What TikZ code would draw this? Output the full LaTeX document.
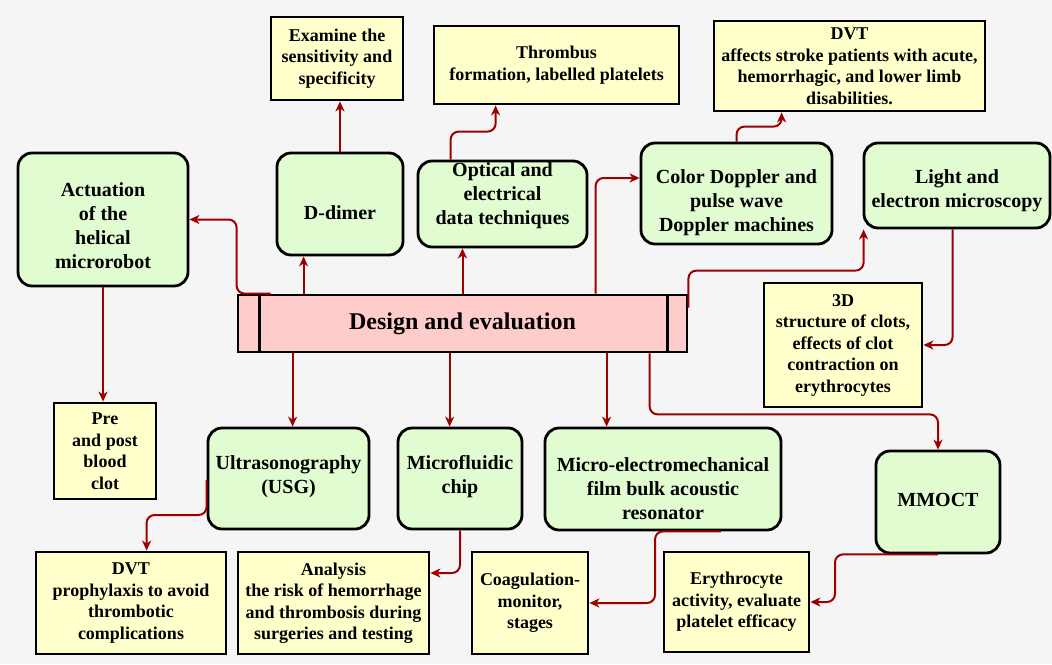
\documentclass[tikz,border=0pt]{standalone}
\usepackage{fontspec}
\setmainfont{Liberation Serif}
\usetikzlibrary{arrows.meta}
\definecolor{bgc}{HTML}{F5F5F5}
\definecolor{gfill}{HTML}{E2FCD2}
\definecolor{yfill}{HTML}{FFFFCC}
\definecolor{pfill}{HTML}{FFCCCC}
\definecolor{arr}{HTML}{9E0000}
\begin{document}
\begin{tikzpicture}[x=1pt,y=-1pt,
 gbox/.style={draw=black, line width=2.8pt, rounded corners=14pt, fill=gfill, inner sep=0pt},
 gtxt/.style={align=center, inner sep=0pt, font=\bfseries\fontsize{20}{24}\selectfont},
 ybox/.style={draw=black, line width=2.8pt, fill=yfill, align=center, inner sep=0pt, font=\bfseries\fontsize{18}{21.5}\selectfont},
 pbox/.style={draw=black, line width=2.8pt, fill=pfill, align=center, inner sep=0pt, font=\bfseries\fontsize{24}{28}\selectfont},
 conn/.style={draw=arr, line width=2pt, rounded corners=8pt, -{Stealth[length=10pt,width=9pt,inset=3pt]}},
 sz/.style 2 args={minimum width=#1pt, minimum height=#2pt}]
\useasboundingbox (0,0) rectangle (1052,664);
\fill[bgc] (0,0) rectangle (1052,664);

% green boxes
\node[gbox, sz={170}{133}] (act) at (103,219.5) {};
\node[gtxt] (actt) at ([yshift=-6pt]act.center) {Actuation\\of the\\helical\\microrobot};
\node[gbox, sz={126}{102}] (dd) at (340,204) {};
\node[gtxt] (ddt) at ([yshift=-9pt]dd.center) {D-dimer};
\node[gbox, sz={169}{86}] (opt) at (502.5,204) {};
\node[gtxt] (optt) at ([yshift=8pt]opt.center) {Optical and\\electrical\\data techniques};
\node[gbox, sz={191}{101}] (cd) at (736.5,193.5) {};
\node[gtxt] (cdt) at ([yshift=-9.5pt]cd.center) {Color Doppler and\\pulse wave\\Doppler machines};
\node[gbox, sz={186}{85}] (lem) at (957,185.5) {};
\node[gtxt] (lemt) at ([yshift=-5.5pt]lem.center) {Light and\\electron microscopy};
\node[gbox, sz={161}{101}] (usg) at (288.5,478.5) {};
\node[gtxt] (usgt) at ([yshift=2pt]usg.center) {Ultrasonography\\(USG)};
\node[gbox, sz={124}{101}] (mfc) at (460,478.5) {};
\node[gtxt] (mfct) at ([yshift=2pt]mfc.center) {Microfluidic\\chip};
\node[gbox, sz={236}{102}] (mem) at (663,479) {};
\node[gtxt] (memt) at ([yshift=-10pt]mem.center) {Micro-electromechanical\\film bulk acoustic\\resonator};
\node[gbox, sz={124}{102}] (mmoct) at (938,502) {};
\node[gtxt] (mmoctt) at ([yshift=2pt]mmoct.center) {MMOCT};

% yellow boxes
\node[ybox, sz={132}{83}] (exam) at (337,58.5) {Examine the\\sensitivity and\\specificity};
\node[ybox, sz={245}{78}] (thr) at (556.5,65) {Thrombus\\formation, labelled platelets};
\node[ybox, sz={271}{90}] (dvta) at (849.5,66) {DVT\\affects stroke patients with acute,\\hemorrhagic, and lower limb\\disabilities.};
\node[ybox, sz={158}{124}] (d3) at (843,345) {3D\\structure of clots,\\effects of clot\\contraction on\\erythrocytes};
\node[ybox, sz={102}{96}] (pre) at (105,451) {Pre\\and post\\blood\\clot};
\node[ybox, sz={190}{102}] (dvtb) at (131,603) {DVT\\prophylaxis to avoid\\thrombotic\\complications};
\node[ybox, sz={191}{102}] (ana) at (333.5,603) {Analysis\\the risk of hemorrhage\\and thrombosis during\\surgeries and testing};
\node[ybox, sz={116}{102}] (coag) at (530,603) {Coagulation-\\monitor,\\stages};
\node[ybox, sz={145}{100}] (ery) at (736.5,602) {Erythrocyte\\activity, evaluate\\platelet efficacy};

% central box
\node[pbox, sz={449}{57}] (de) at (462.5,323.5) {Design and evaluation};
\draw[line width=2.8pt] ([xshift=23pt]de.north west) -- ([xshift=23pt]de.south west);
\draw[line width=2.8pt] ([xshift=-21pt]de.north east) -- ([xshift=-21pt]de.south east);

% connectors
\draw[conn] ([xshift=34pt]de.north west) -- (de.north west) |- (act.east);
\draw[conn] ([xshift=67pt]de.north west) coordinate (a1) -- (a1 |- dd.south);
\draw[conn] (dd.north) -- (dd.north |- exam.south);
\draw[conn] (de.north) -- (de.north |- opt.south);
\draw[conn] ([xshift=34pt]opt.north west) -- ++(0,-28) -| ([xshift=63pt]thr.south west);
\draw[conn] ([xshift=359pt]de.north west) |- ([yshift=15.5pt]cd.west);
\draw[conn] (cd.north) -- ++(0,-15) -| ([xshift=69pt]dvta.south west);
\draw[conn] ([yshift=-14pt]de.north east) -- ++(0,-37) -| ([xshift=1pt]lem.south west);
\draw[conn] ([xshift=90pt]lem.south west) |- (d3.east);
\draw[conn] (act.south) -- (act.south |- pre.north);
\draw[conn] ([xshift=56pt]de.south west) coordinate (a2) -- (a2 |- usg.north);
\draw[conn] ([xshift=213pt]de.south west) coordinate (a3) -- (a3 |- mfc.north);
\draw[conn] ([xshift=370pt]de.south west) coordinate (a4) -- (a4 |- mem.north);
\draw[conn] ([xshift=413pt]de.south west) -- ++(0,61) -| (mmoct.north);
\draw[conn] ([yshift=-1.5pt]usg.west) -- ++(0,35) -| ([xshift=112pt]dvtb.north west);
\draw[conn] (mfc.south) |- ([yshift=30pt]ana.east);
\draw[conn] ([xshift=58pt]mem.south) -- ([xshift=-8pt]mem.south) |- (coag.east);
\draw[conn] (mmoct.south) -- ++(-103,0) |- (ery.east);
\end{tikzpicture}
\end{document}
